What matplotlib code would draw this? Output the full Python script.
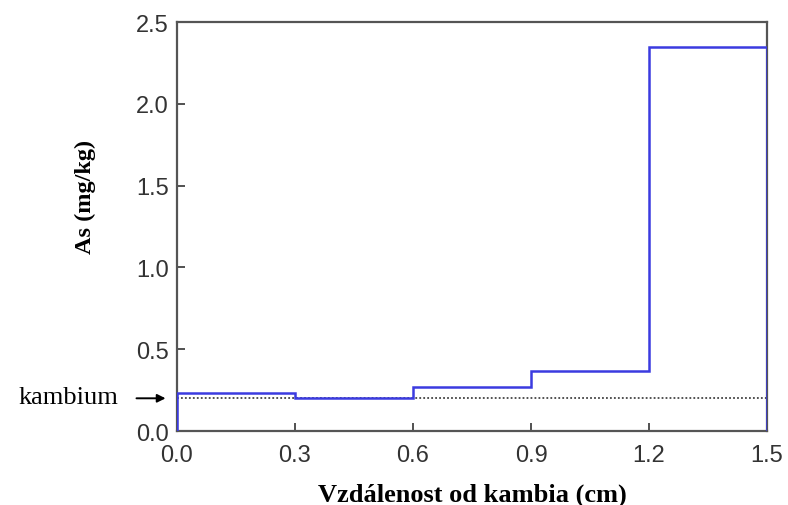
import numpy as np
import matplotlib.pyplot as plt

# distance from cambium (cm) – segment edges, and As content per segment
edges = [0.0, 0.3, 0.6, 0.9, 1.2, 1.5]
as_content = [0.235, 0.2, 0.27, 0.365, 2.345]
cambium_level = 0.2

xticks = [0.0, 0.3, 0.6, 0.9, 1.2, 1.5]
yticks = [0.0, 0.5, 1.0, 1.5, 2.0, 2.5]

fig = plt.figure(figsize=(7.88, 5.06), dpi=100)
ax = fig.add_axes([0.2246, 0.1462, 0.7488, 0.8083])

# closed step profile: up from zero at the left edge, down to zero at the right edge
xs = [edges[0]]
ys = [0.0]
for i, v in enumerate(as_content):
    xs += [edges[i], edges[i + 1]]
    ys += [v, v]
xs.append(edges[-1]); ys.append(0.0)
ax.plot(xs, ys, color='#3b3be0', lw=1.8, solid_joinstyle='miter', zorder=3)

ax.plot([edges[0], edges[-1]], [cambium_level, cambium_level],
        color='#444444', ls=(0, (1, 1.2)), lw=1.3, zorder=2)

ax.set_xlim(0, 1.5)
ax.set_ylim(0, 2.5)
ax.set_xticks(xticks)
ax.set_yticks(yticks)
ax.set_xticklabels([f'{t:.1f}' for t in xticks])
ax.set_yticklabels([f'{t:.1f}' for t in yticks])
ax.tick_params(direction='in', length=6, width=1.2, color='#333333',
               labelsize=17, labelcolor='#333333')
ax.tick_params(axis='x', pad=9)
ax.tick_params(axis='y', pad=6)
for lab in ax.get_xticklabels() + ax.get_yticklabels():
    lab.set_family('Liberation Sans')
for s in ax.spines.values():
    s.set_color('#555555'); s.set_linewidth(1.6)

ax.set_xlabel('Vzdálenost od kambia (cm)', family='Liberation Serif',
              fontweight='bold', fontsize=19, labelpad=12)
ax.set_ylabel('As (mg/kg)', family='Liberation Serif',
              fontweight='bold', fontsize=17.5)
ax.yaxis.set_label_coords(-0.137, 0.575)

# cambium marker left of the axes
ax.annotate('', xy=(-0.022, cambium_level), xytext=(-0.11, cambium_level),
            xycoords='data', annotation_clip=False,
            arrowprops=dict(arrowstyle='-|>', color='black', lw=1.4,
                            mutation_scale=12))
ax.text(-0.15, cambium_level + 0.01, 'kambium', family='Liberation Serif',
        fontsize=19, ha='right', va='center', clip_on=False)

fig.savefig('out.png', dpi=100)
